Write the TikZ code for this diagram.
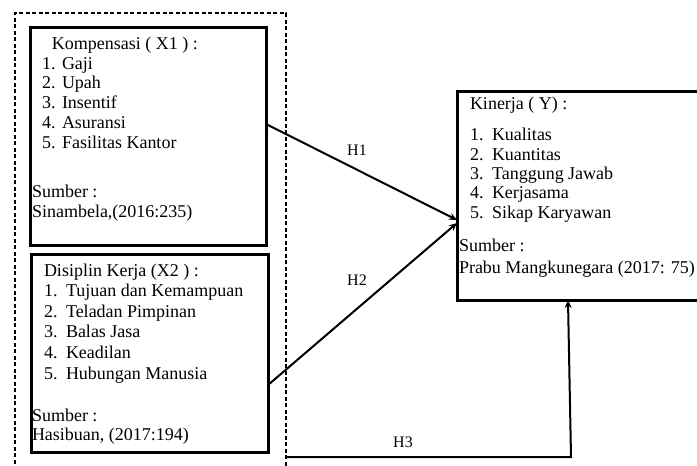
\documentclass[tikz,border=0pt]{standalone}
\usepackage{fontspec}
\setmainfont{Liberation Serif}
\usetikzlibrary{arrows.meta,calc}
\tikzset{
  x=1pt,y=-1pt,
  box/.style={draw,line width=3pt,rectangle,anchor=north west,inner sep=0pt,outer sep=0pt},
  txt/.style={anchor=base west,inner sep=0pt,outer sep=0pt,font=\fontsize{18}{20}\selectfont},
  lbl/.style={inner sep=0pt,font=\fontsize{16}{18}\selectfont},
  arr/.style={line width=2pt,-{Stealth[length=8pt,width=7pt]}},
  frame/.style={line width=1.1pt,dash pattern=on 4pt off 2.5pt}
}
\begin{document}
\begin{tikzpicture}
\useasboundingbox (0,0) rectangle (697,466);
% dashed frame
\draw[frame] (15,470) -- (15,13) -- (286,13) -- (286,470);
% boxes
\node[box,minimum width=236pt,minimum height=218pt] (x1) at (30,27) {};
\node[box,minimum width=237pt,minimum height=198pt] (x2) at (31,254) {};
\node[box,minimum width=250pt,minimum height=209pt] (y) at (457,91) {};
% X1 text
\node[txt] (x1t) at (52,49) {Kompensasi ( X1 ) :};
\node[txt] (x1n1) at (42,69) {1.}; \node[txt] (x1i1) at (62,69) {Gaji};
\node[txt] (x1n2) at (42,88) {2.}; \node[txt] (x1i2) at (62,88) {Upah};
\node[txt] (x1n3) at (42,108) {3.}; \node[txt] (x1i3) at (62,108) {Insentif};
\node[txt] (x1n4) at (42,128) {4.}; \node[txt] (x1i4) at (62,128) {Asuransi};
\node[txt] (x1n5) at (42,148) {5.}; \node[txt] (x1i5) at (62,148) {Fasilitas Kantor};
\node[txt] (x1s) at (32,197) {Sumber :};
\node[txt] (x1r) at (32,217) {Sinambela,(2016:235)};
% X2 text
\node[txt] (x2t) at (44,276) {Disiplin Kerja (X2 ) :};
\node[txt] (x2n1) at (44,296) {1.}; \node[txt] (x2i1) at (66,296) {Tujuan dan Kemampuan};
\node[txt] (x2n2) at (44,317) {2.}; \node[txt] (x2i2) at (66,317) {Teladan Pimpinan};
\node[txt] (x2n3) at (44,337) {3.}; \node[txt] (x2i3) at (66,337) {Balas Jasa};
\node[txt] (x2n4) at (44,358) {4.}; \node[txt] (x2i4) at (66,358) {Keadilan};
\node[txt] (x2n5) at (44,379) {5.}; \node[txt] (x2i5) at (66,379) {Hubungan Manusia};
\node[txt] (x2s) at (32,421) {Sumber :};
\node[txt] (x2r) at (32,440) {Hasibuan, (2017:194)};
% Y text
\node[txt] (yt) at (470,109) {Kinerja ( Y) :};
\node[txt] (yn1) at (470,140) {1.}; \node[txt] (yi1) at (492,140) {Kualitas};
\node[txt] (yn2) at (470,160) {2.}; \node[txt] (yi2) at (492,160) {Kuantitas};
\node[txt] (yn3) at (470,179) {3.}; \node[txt] (yi3) at (492,179) {Tanggung Jawab};
\node[txt] (yn4) at (470,198) {4.}; \node[txt] (yi4) at (492,198) {Kerjasama};
\node[txt] (yn5) at (470,218) {5.}; \node[txt] (yi5) at (492,218) {Sikap Karyawan};
\node[txt] (ys) at (459,251) {Sumber :};
\node[txt] (yr) at (459,273) {Prabu Mangkunegara (2017: 75)};
% connectors
\draw[arr] ([yshift=12pt]x1.east) -- ([yshift=-24.5pt]y.west);
\draw[arr] ([yshift=-32pt]x2.east) -- ([yshift=-27.5pt]y.west);
\coordinate (h3s) at (287,457);
\coordinate (h3c) at (571,457);
\draw[arr] (h3s) -- (h3c) -- ([xshift=111pt]y.south west);
% labels
\node[lbl] (h1) at (357,150) {H1};
\node[lbl] (h2) at (357,280) {H2};
\node[lbl] (h3) at (403,442) {H3};
\end{tikzpicture}
\end{document}
